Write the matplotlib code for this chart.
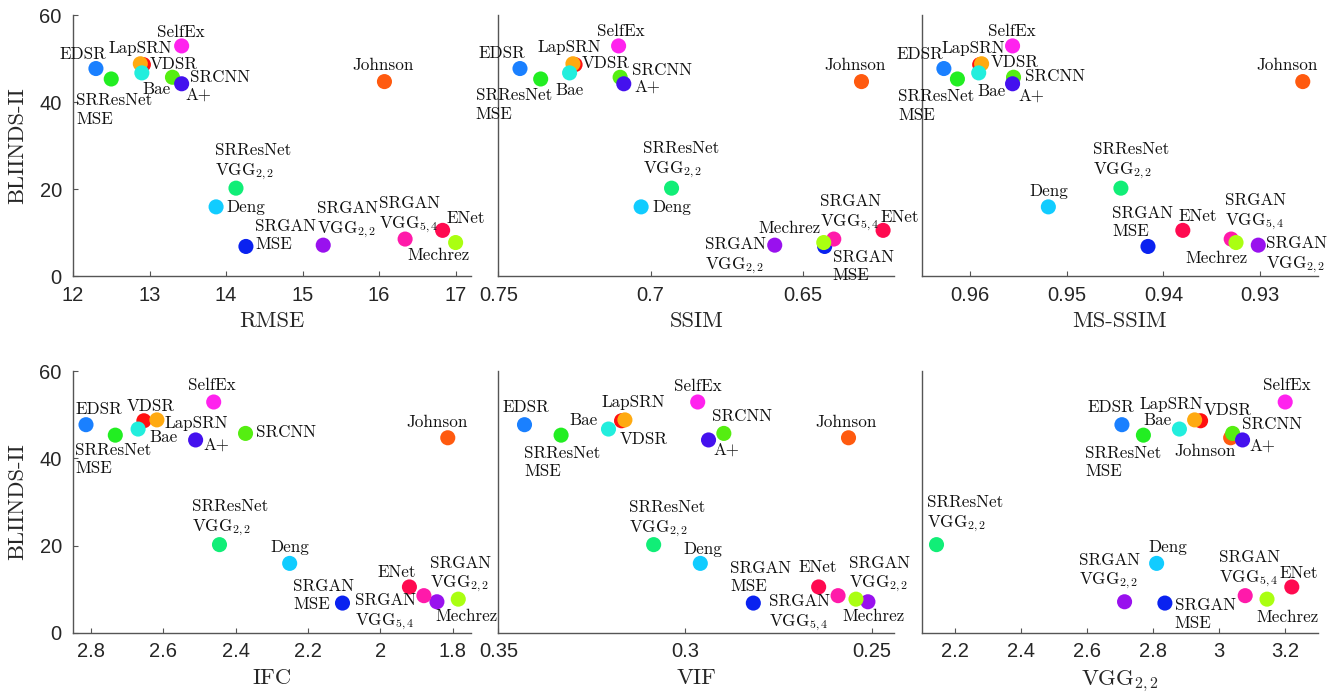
import matplotlib
matplotlib.use('Agg')
import matplotlib.pyplot as plt

plt.rcParams['mathtext.fontset'] = 'cm'
plt.rcParams['axes.unicode_minus'] = False

# Methods, in drawing order
methods = ['EDSR', 'SRResNet-MSE', 'Johnson', 'VDSR', 'LapSRN', 'Bae', 'SelfEx', 'SRCNN', 'A+',
           'SRResNet-VGG22', 'Deng', 'SRGAN-MSE', 'SRGAN-VGG22', 'SRGAN-VGG54', 'ENet', 'Mechrez']
labels = ['EDSR', 'SRResNet\nMSE', 'Johnson', 'VDSR', 'LapSRN', 'Bae', 'SelfEx', 'SRCNN', 'A+',
          'SRResNet\nVGG$_{2,2}$', 'Deng', 'SRGAN\nMSE', 'SRGAN\nVGG$_{2,2}$', 'SRGAN\nVGG$_{5,4}$',
          'ENet', 'Mechrez']
colors = ['#1a80ff', '#22ee22', '#ff5a0f', '#ff1010', '#ffaa11', '#22eedd', '#ff22ee', '#55ee11',
          '#4411ee', '#11ee77', '#11ccff', '#0a22f0', '#9911ee', '#ff1aaa', '#ff0a50', '#aaff11']

# BLIINDS-II score (y axis of every panel)
bliinds = [47.7, 45.3, 44.7, 48.6, 48.8, 46.7, 52.9, 45.7, 44.2, 20.2, 15.9, 6.8, 7.1, 8.5, 10.5, 7.7]

# Full-reference metrics (x axes)
rmse = [12.30, 12.50, 16.07, 12.92, 12.88, 12.90, 13.42, 13.30, 13.42, 14.13, 13.87, 14.26, 15.27, 16.34, 16.83, 17.00]
ssim = [0.7429, 0.7361, 0.6307, 0.7248, 0.7255, 0.7266, 0.7105, 0.7100, 0.7088, 0.6931, 0.7031, 0.6428, 0.6592, 0.6398, 0.6236, 0.6431]
msssim = [0.9627, 0.9613, 0.9256, 0.9590, 0.9588, 0.9591, 0.9556, 0.9555, 0.9556, 0.9444, 0.9519, 0.9416, 0.9302, 0.9330, 0.9380, 0.9325]
ifc = [2.814, 2.733, 1.814, 2.654, 2.618, 2.670, 2.461, 2.373, 2.511, 2.445, 2.251, 2.105, 1.844, 1.880, 1.920, 1.785]
vif = [0.3430, 0.3332, 0.2562, 0.3170, 0.3161, 0.3205, 0.2966, 0.2896, 0.2937, 0.3084, 0.2959, 0.2817, 0.2510, 0.2590, 0.2642, 0.2542]
vgg = [2.706, 2.771, 3.035, 2.944, 2.926, 2.880, 3.200, 3.041, 3.071, 2.145, 2.811, 2.836, 2.714, 3.079, 3.220, 3.145]

# Tick values / labels per panel
rmse_ticks = [12, 13, 14, 15, 16, 17]
rmse_ticklabels = ['12', '13', '14', '15', '16', '17']
ssim_ticks = [0.75, 0.7, 0.65]
ssim_ticklabels = ['0.75', '0.7', '0.65']
msssim_ticks = [0.96, 0.95, 0.94, 0.93]
msssim_ticklabels = ['0.96', '0.95', '0.94', '0.93']
ifc_ticks = [2.8, 2.6, 2.4, 2.2, 2.0, 1.8]
ifc_ticklabels = ['2.8', '2.6', '2.4', '2.2', '2', '1.8']
vif_ticks = [0.35, 0.3, 0.25]
vif_ticklabels = ['0.35', '0.3', '0.25']
vgg_ticks = [2.2, 2.4, 2.6, 2.8, 3.0, 3.2]
vgg_ticklabels = ['2.2', '2.4', '2.6', '2.8', '3', '3.2']
y_ticks = [0, 20, 40, 60]

# label offsets in pixels: (dx, dy, ha)
off_rmse = {
    'EDSR': (-13, 14, 'center'), 'SRResNet-MSE': (-35, -31, 'left'), 'LapSRN': (0, 15, 'center'),
    'VDSR': (6, 0, 'left'), 'Bae': (15, -16, 'center'), 'SelfEx': (-1, 14, 'center'),
    'SRCNN': (18, 0, 'left'), 'A+': (4, -11, 'left'), 'Johnson': (-1, 16, 'center'),
    'SRResNet-VGG22': (-21, 26, 'left'), 'Deng': (10, 0, 'left'), 'SRGAN-MSE': (9, 11, 'left'),
    'SRGAN-VGG22': (-6, 25, 'left'), 'SRGAN-VGG54': (-26, 24, 'left'), 'ENet': (4, 12, 'left'),
    'Mechrez': (14, -13, 'right')}
off_ssim = {
    'EDSR': (-18, 15, 'center'), 'SRResNet-MSE': (-65, -26, 'left'), 'Bae': (0, -17, 'center'),
    'LapSRN': (-4, 16, 'center'), 'VDSR': (7, 1, 'left'), 'SelfEx': (2, 15, 'center'),
    'SRCNN': (12, 7, 'left'), 'A+': (11, -3, 'left'), 'Johnson': (-6, 16, 'center'),
    'SRResNet-VGG22': (-29, 28, 'left'), 'Deng': (11, 0, 'left'), 'SRGAN-VGG22': (-9, -11, 'right'),
    'Mechrez': (-3, 14, 'right'), 'SRGAN-VGG54': (-14, 26, 'left'), 'SRGAN-MSE': (8, -20, 'left'),
    'ENet': (17, 13, 'center')}
off_msssim = {
    'EDSR': (-24, 14, 'center'), 'LapSRN': (-8, 15, 'center'), 'VDSR': (11, 2, 'left'),
    'SRResNet-MSE': (-59, -27, 'left'), 'Bae': (13, -18, 'center'), 'SelfEx': (-1, 15, 'center'),
    'SRCNN': (11, 1, 'left'), 'A+': (6, -12, 'left'), 'Johnson': (-16, 16, 'center'),
    'SRResNet-VGG22': (-28, 27, 'left'), 'Deng': (0, 16, 'center'), 'SRGAN-MSE': (-36, 24, 'left'),
    'ENet': (15, 14, 'center'), 'SRGAN-VGG54': (-6, 27, 'left'), 'Mechrez': (12, -16, 'right'),
    'SRGAN-VGG22': (8, -10, 'left')}
off_ifc = {
    'EDSR': (13, 15, 'center'), 'VDSR': (7, 14, 'center'), 'LapSRN': (8, -3, 'left'),
    'Bae': (11, -8, 'left'), 'SRResNet-MSE': (-40, -24, 'left'), 'SelfEx': (-2, 17, 'center'),
    'A+': (8, -5, 'left'), 'SRCNN': (10, 1, 'left'), 'Johnson': (-11, 15, 'center'),
    'SRResNet-VGG22': (-27, 26, 'left'), 'Deng': (0, 16, 'center'), 'SRGAN-MSE': (-49, 8, 'left'),
    'SRGAN-VGG54': (-69, -17, 'left'), 'ENet': (-13, 15, 'center'), 'SRGAN-VGG22': (-7, 27, 'left'),
    'Mechrez': (8, -17, 'center')}
off_vif = {
    'EDSR': (1, 17, 'center'), 'SRResNet-MSE': (-37, -27, 'left'), 'Bae': (-25, 9, 'center'),
    'LapSRN': (8, 18, 'center'), 'VDSR': (22, -19, 'center'), 'SelfEx': (0, 16, 'center'),
    'SRCNN': (18, 17, 'center'), 'A+': (5, -10, 'left'), 'Johnson': (-2, 15, 'center'),
    'SRResNet-VGG22': (-25, 25, 'left'), 'Deng': (3, 14, 'center'), 'SRGAN-MSE': (-23, 26, 'left'),
    'ENet': (-1, 20, 'center'), 'SRGAN-VGG54': (-69, -18, 'left'), 'SRGAN-VGG22': (-19, 27, 'left'),
    'Mechrez': (18, -17, 'center')}
off_vgg = {
    'EDSR': (-11, 17, 'center'), 'LapSRN': (-23, 16, 'center'), 'Bae': (-22, 9, 'center'),
    'VDSR': (3, 10, 'left'), 'SRResNet-MSE': (-58, -27, 'left'), 'Johnson': (-26, -14, 'center'),
    'SRCNN': (9, 9, 'left'), 'A+': (7, -6, 'left'), 'SelfEx': (2, 17, 'center'),
    'SRResNet-VGG22': (-10, 30, 'left'), 'Deng': (11, 16, 'center'), 'SRGAN-VGG22': (-46, 30, 'left'),
    'SRGAN-MSE': (10, -11, 'left'), 'SRGAN-VGG54': (-26, 26, 'left'), 'ENet': (7, 14, 'center'),
    'Mechrez': (20, -18, 'center')}

panels = [
    # x data, xlabel, xlim, ticks, ticklabels, offsets, axes rect
    (rmse, 'RMSE', (12, 17.2), rmse_ticks, rmse_ticklabels, off_rmse, [0.0545, 0.6034, 0.2972, 0.375]),
    (ssim, 'SSIM', (0.75, 0.62), ssim_ticks, ssim_ticklabels, off_ssim, [0.3722, 0.6034, 0.2955, 0.375]),
    (msssim, 'MS-SSIM', (0.965, 0.924), msssim_ticks, msssim_ticklabels, off_msssim, [0.6883, 0.6034, 0.2962, 0.375]),
    (ifc, 'IFC', (2.85, 1.75), ifc_ticks, ifc_ticklabels, off_ifc, [0.0545, 0.0909, 0.2972, 0.376]),
    (vif, 'VIF', (0.35, 0.244), vif_ticks, vif_ticklabels, off_vif, [0.3722, 0.0909, 0.2955, 0.376]),
    (vgg, 'VGG$_{2,2}$', (2.1, 3.3), vgg_ticks, vgg_ticklabels, off_vgg, [0.6883, 0.0909, 0.2962, 0.376]),
]

label_font = 'cmr10'
tick_font = 'Liberation Sans'
axis_color = '#555555'

fig = plt.figure(figsize=(13.39, 6.96), dpi=100)

for i, (xs, xlabel, xlim, ticks, ticklabels, offsets, rect) in enumerate(panels):
    ax = fig.add_axes(rect)
    for j, name in enumerate(methods):
        ax.scatter(xs[j], bliinds[j], s=118, color=colors[j], edgecolors='none', zorder=3 + j * 0.01,
                   clip_on=False)
        dx, dy, ha = offsets[name]
        ax.annotate(labels[j], (xs[j], bliinds[j]), xytext=(dx, dy), textcoords='offset pixels',
                    ha=ha, va='center', multialignment='left', fontsize=12.3,
                    family=label_font, color='#111111', zorder=5, linespacing=1.25)
    ax.set_xlim(*xlim)
    ax.set_ylim(0, 60)
    ax.set_xticks(ticks)
    ax.set_xticklabels(ticklabels)
    ax.spines['top'].set_visible(False)
    ax.spines['right'].set_visible(False)
    for sp in ['left', 'bottom']:
        ax.spines[sp].set_color(axis_color)
        ax.spines[sp].set_linewidth(1.0)
    ax.tick_params(axis='x', direction='in', length=3.5, width=0.8, color=axis_color,
                   labelsize=14.5, labelcolor='#262626', pad=7)
    if i % 3 == 0:
        ax.set_yticks(y_ticks)
        ax.tick_params(axis='y', direction='in', length=3.5, width=0.8, color=axis_color,
                       labelsize=14.5, labelcolor='#262626', pad=8)
        ax.set_ylabel('BLIINDS-II', family=label_font, fontsize=16.3, color='#262626', labelpad=9)
    else:
        ax.set_yticks([])
    for t in ax.get_xticklabels() + ax.get_yticklabels():
        t.set_family(tick_font)
    ax.set_xlabel(xlabel, family=label_font, fontsize=16.3, color='#262626', labelpad=5)
    ax.patch.set_alpha(0)

fig.savefig('out.png', dpi=100)
